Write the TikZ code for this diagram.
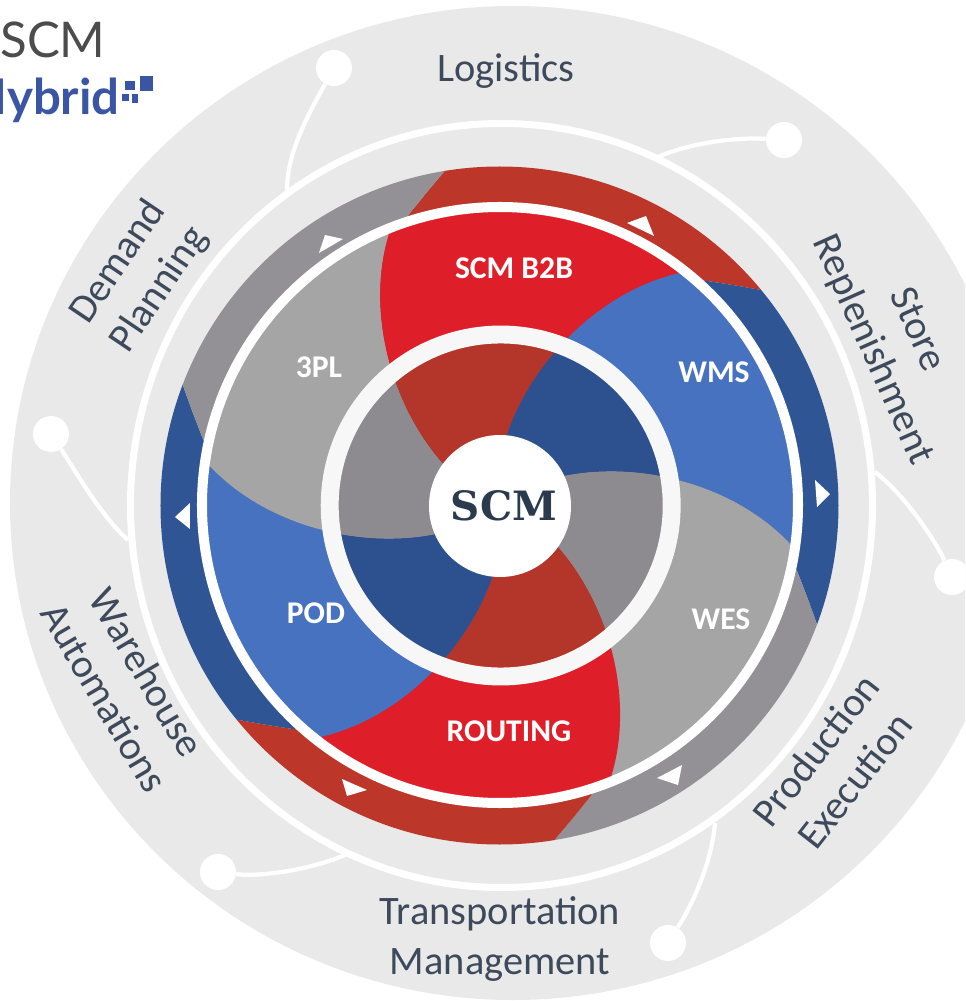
\documentclass[tikz,border=0pt]{standalone}
\usepackage{fontspec}
\setmainfont{Carlito}
\newfontfamily\scmfont{DejaVu Serif}
\newfontfamily\logofont{Lato}
\definecolor{scmback}{HTML}{E9E9E9}
\definecolor{scmred}{HTML}{DE1F2A}
\definecolor{scmdarkred}{HTML}{BC362A}
\definecolor{scmblue}{HTML}{4672BF}
\definecolor{scmdarkblue}{HTML}{2F5594}
\definecolor{scmgray}{HTML}{A5A5A5}
\definecolor{scmdarkgray}{HTML}{939196}
\definecolor{scminnerred}{HTML}{B4352A}
\definecolor{scminnerblue}{HTML}{2D518F}
\definecolor{scminnergray}{HTML}{8D8B8F}
\definecolor{scmtext}{HTML}{3D4A5C}
\definecolor{scmcenter}{HTML}{2B3A4D}
\definecolor{scmlogo}{HTML}{3B55A5}
\tikzset{
	dotnode/.style={circle,fill=white,inner sep=0pt,minimum size=36*0.02cm},
	linkline/.style={white,line width=2.4pt},
	ringlabel/.style={color=scmtext,align=center,font=\fontsize{23}{28}\selectfont},
	bladelabel/.style={color=white,font=\fontsize{18}{22}\selectfont\bfseries},
	tipmark/.style={fill=white}
}
% one blade, from its edge round to the same edge turned by 60 degrees
\newcommand{\midblade}[2]{%
	\fill[#2,rotate=#1] (-30,15) -- (-58,42) .. controls (-112,104) and (-135,200) .. (-110,275) -- (-95,305)
		-- ([rotate=-30]-135,585)
		-- ([rotate=-60]-95,305) -- ([rotate=-60]-110,275) .. controls ([rotate=-60]-135,200) and ([rotate=-60]-112,104) .. ([rotate=-60]-58,42) -- ([rotate=-60]-30,15)
		-- (0,0) -- cycle;}
\newcommand{\outerblade}[2]{%
	\fill[#2,rotate=#1] (0,0) -- (-107,268) -- (-90,292) -- (-73,313) -- (-57,332) -- (-30,365)
		-- ([rotate=-30]-135,585)
		-- ([rotate=-60]-30,365) -- ([rotate=-60]-57,332) -- ([rotate=-60]-73,313) -- ([rotate=-60]-90,292) -- ([rotate=-60]-107,268) -- cycle;}
\begin{document}
\begin{tikzpicture}[x=0.02cm,y=0.02cm]
	\useasboundingbox (-500,-496) rectangle (465,505);
	\clip (-500,-496) rectangle (465,505);
	% back ring
	\fill [scmback] (13,2) ellipse [x radius=503,y radius=497];
	\draw [white,line width=4pt] (1.5,-0.5) ellipse [x radius=371,y radius=382];

	% outer band
	\begin{scope}
		\clip (-0.5,-0.5) circle (339);
		\outerblade{0}{scmdarkred}
		\outerblade{-60}{scmdarkblue}
		\outerblade{-120}{scmdarkgray}
		\outerblade{-180}{scmdarkred}
		\outerblade{-240}{scmdarkblue}
		\outerblade{-300}{scmdarkgray}
	\end{scope}
	% middle band
	\begin{scope}
		\clip (0,0) circle (300);
		\midblade{0}{scmred}
		\midblade{-60}{scmblue}
		\midblade{-120}{scmgray}
		\midblade{-180}{scmred}
		\midblade{-240}{scmblue}
		\midblade{-300}{scmgray}
	\end{scope}
	% inner band
	\begin{scope}
		\clip (0,0) circle (172);
		\midblade{0}{scminnerred}
		\midblade{-60}{scminnerblue}
		\midblade{-120}{scminnergray}
		\midblade{-180}{scminnerred}
		\midblade{-240}{scminnerblue}
		\midblade{-300}{scminnergray}
	\end{scope}
	\draw [white,line width=5.7pt] (0,0) circle (298);
	\draw [white!97!black,line width=10.2pt] (0.7,-0.5) circle (171);

	% small triangles on the outer band
	\fill [tipmark] (127,282) -- (146,289) -- (154,269) -- cycle;
	\fill [tipmark] (330,11) -- (315,25) -- (317,-2) -- cycle;
	\fill [tipmark] (157,-273) -- (182,-260) -- (178,-280) -- cycle;
	\fill [tipmark] (-133,-285) -- (-158,-274) -- (-153,-291) -- cycle;
	\fill [tipmark] (-325,-12) -- (-310,2) -- (-310,-24) -- cycle;
	\fill [tipmark] (-157,266) -- (-181,252) -- (-175,270) -- cycle;

	\node [circle,fill=white,inner sep=0pt,minimum size=142*0.02cm] (center) at (0,-1) {};
	\node [text=scmcenter,font=\fontsize{23}{28}\selectfont\scmfont\bfseries] (centerlabel) at (4,-1) {SCM};

	\node [bladelabel] (scmbtob) at (14,237) {SCM B2B};
	\node [bladelabel] (wms) at (214,133) {WMS};
	\node [bladelabel] (wes) at (221,-114) {WES};
	\node [bladelabel] (routing) at (9,-226) {ROUTING};
	\node [bladelabel] (pod) at (-184,-108) {POD};
	\node [bladelabel] (tpl) at (-181,138) {3PL};

	\node [ringlabel] (logistics) at (6,434) {Logistics};
	\node [ringlabel,rotate=56] (demand) at (-361,229) {Demand\\Planning};
	\node [ringlabel,rotate=-66] (store) at (394,165) {Store\\Replenishment};
	\node [ringlabel,rotate=52] (production) at (335,-260) {Production\\Execution};
	\node [ringlabel] (transport) at (0,-434) {Transportation\\Management};
	\node [ringlabel,rotate=-59.5] (warehouse) at (-374,-180) {Warehouse\\Automations};

	% dots on the back ring with their links
	\node [dotnode] (dotlogistics) at (-166,437) {};
	\coordinate (endlogistics) at (-213,315);
	\draw [linkline] (dotlogistics) .. controls (-195,385) and (-213,350) .. (endlogistics);
	\node [dotnode] (dotstore) at (284,365) {};
	\coordinate (endstore) at (158,348);
	\draw [linkline] (dotstore) .. controls (235,368) and (190,362) .. (endstore);
	\node [dotnode] (dotproduction) at (452,-72) {};
	\coordinate (endproduction) at (375,33);
	\draw [linkline] (dotproduction) .. controls (435,-35) and (405,10) .. (endproduction);
	\node [dotnode] (dottransport) at (168,-438) {};
	\coordinate (endtransport) at (215,-318);
	\draw [linkline] (dottransport) .. controls (195,-395) and (212,-355) .. (endtransport);
	\node [dotnode] (dotwarehouse) at (-282,-367) {};
	\coordinate (endwarehouse) at (-155,-350);
	\draw [linkline] (dotwarehouse) .. controls (-240,-372) and (-190,-365) .. (endwarehouse);
	\node [dotnode] (dotdemand) at (-449,71) {};
	\coordinate (enddemand) at (-372,-35);
	\draw [linkline] (dotdemand) .. controls (-425,35) and (-400,-10) .. (enddemand);

	% logo in the corner
	\node [anchor=east,inner sep=0pt,text=black!70,font=\fontsize{28}{30}\selectfont\logofont] (logoscm) at (-394,465) {SCM};
	\node [anchor=base east,inner sep=0pt,text=scmlogo,font=\fontsize{28}{30}\selectfont\logofont\bfseries] (logohybrid) at (-380,390) {Hybrid};
	\fill [scmlogo] (-360,429) rectangle (-347,414);
	\fill [scmlogo] (-375,424) rectangle (-365,415);
	\fill [scmlogo] (-378,411) rectangle (-371,404);
	\fill [scmlogo] (-368,411) rectangle (-362,402);
\end{tikzpicture}
\end{document}
